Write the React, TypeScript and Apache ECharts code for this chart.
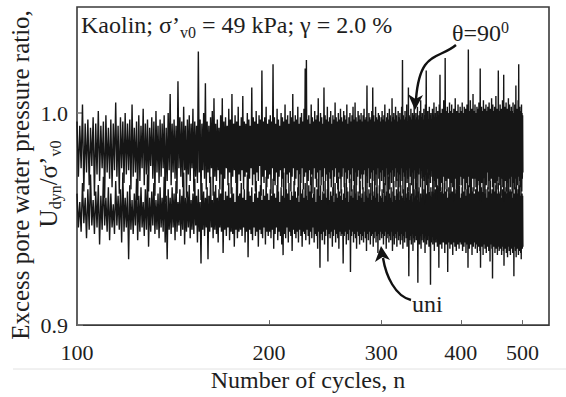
import React, { useEffect, useRef } from 'react';
import * as echarts from 'echarts';

// Cycle numbers start at 100; one high and one low reading per cycle.
const FIRST_CYCLE = 100;
const X_TICKS = [100, 200, 300, 400, 500];
const X_MIN = 100;
const X_MAX = 550;
const Y_TICKS = [0.9, 1.0];
const Y_MIN = 0.9;
const Y_MAX = 1.05;
// Values below are in thousandths above 0.9 (e.g. 96 -> 0.996)
const BASE = 0.9;

const THETA_HIGH = [
  96, 94, 104, 95, 97, 93, 98, 95, 101, 94, 96, 99, 93, 97, 95, 105, 94, 98, 96, 100,
  95, 97, 104, 93, 96, 99, 94, 102, 95, 97, 93, 98, 96, 101, 94, 97, 95, 99, 93, 100,
  109, 95, 97, 94, 115, 98, 96, 103, 94, 97, 99, 95, 102, 96, 94, 129, 97, 95, 100, 114,
  96, 94, 98, 101, 107, 95, 97, 93, 99, 107, 96, 98, 94, 102, 97, 109, 95, 99, 96, 103,
  94, 98, 108, 96, 95, 100, 97, 94, 112, 98, 96, 101, 95, 99, 97, 120, 96, 98, 103, 95,
  97, 99, 96, 123, 98, 95, 102, 97, 94, 100, 98, 96, 104, 97, 99, 95, 101, 98, 109, 96,
  99, 97, 103, 95, 98, 100, 96, 102, 121, 125, 97, 99, 95, 104, 98, 96, 101, 97, 99, 107,
  96, 100, 98, 95, 112, 99, 97, 103, 96, 98, 101, 95, 99, 97, 105, 98, 96, 100, 97, 102,
  98, 96, 101, 99, 97, 104, 95, 98, 100, 96, 99, 103, 97, 105, 98, 96, 101, 99, 97, 100,
  96, 99, 102, 97, 98, 113, 96, 100, 98, 97, 101, 112, 99, 96, 103, 98, 97, 100, 99, 96,
  98, 101, 97, 99, 104, 96, 98, 100, 97, 102, 99, 96, 107, 98, 100, 97, 103, 99, 96, 101,
  98, 100, 97, 103, 125, 99, 97, 101, 98, 104, 96, 112, 99, 98, 102, 97, 100, 99, 105, 97,
  100, 98, 103, 97, 99, 101, 106, 98, 100, 97, 102, 99, 104, 120, 98, 101, 97, 103, 99, 100,
  97, 102, 99, 105, 98, 100, 103, 97, 101, 99, 104, 118, 98, 100, 102, 97, 106, 99, 126, 101,
  98, 103, 100, 97, 105, 99, 101, 104, 98, 100, 102, 97, 107, 99, 101, 98, 104, 100, 97, 103,
  99, 101, 105, 98, 100, 103, 97, 102, 99, 104, 100, 130, 98, 101, 106, 99, 102, 100, 109, 98,
  101, 104, 99, 100, 103, 98, 102, 105, 100, 121, 99, 103, 101, 98, 106, 100, 102, 99, 104, 101,
  98, 103, 100, 105, 99, 102, 100, 107, 98, 104, 101, 99, 103, 100, 108, 99, 102, 100, 120, 101,
  99, 104, 100, 102, 98, 106, 101, 118, 99, 103, 100, 105, 98, 102, 100, 107, 99, 104, 101, 100,
  103, 99, 101, 105, 100, 98, 104, 101, 113, 100, 102, 99, 106, 123, 100, 103, 99, 101, 104, 100,
  99,
];

const THETA_LOW = [
  70, 74, 63, 72, 66, 75, 61, 71, 68, 74, 60, 72, 69, 65, 73, 70, 62, 74, 67, 71,
  73, 64, 70, 72, 59, 68, 74, 66, 71, 63, 75, 69, 61, 72, 67, 70, 74, 58, 68, 73,
  66, 72, 69, 62, 74, 70, 65, 73, 60, 71, 68, 74, 63, 70, 67, 72, 59, 73, 69, 64,
  72, 67, 74, 61, 70, 68, 73, 64, 71, 58, 69, 74, 66, 72, 62, 70, 73, 67, 60, 71,
  68, 73, 64, 70, 72, 59, 69, 74, 66, 71, 63, 72, 68, 75, 61, 70, 67, 73, 65, 69,
  71, 62, 74, 68, 66, 72, 60, 70, 73, 65, 69, 74, 58, 71, 67, 72, 63, 70, 74, 66,
  69, 73, 61, 71, 67, 74, 64, 70, 72, 59, 68, 73, 66, 71, 62, 74, 69, 65, 72, 60,
  73, 66, 70, 63, 74, 68, 71, 57, 72, 69, 65, 73, 61, 70, 74, 67, 64, 72, 69, 62,
  70, 74, 65, 72, 60, 69, 73, 67, 71, 63, 74, 68, 59, 72, 66, 70, 73, 62, 69, 71,
  64, 71, 73, 58, 70, 67, 74, 65, 69, 72, 61, 73, 68, 66, 71, 60, 74, 69, 63, 72,
  68, 73, 62, 70, 66, 74, 59, 71, 69, 64, 72, 67, 73, 61, 70, 74, 65, 68, 72, 60,
  71, 65, 74, 68, 62, 72, 70, 58, 73, 67, 69, 63, 74, 70, 66, 72, 61, 69, 73, 64,
  67, 72, 60, 71, 74, 65, 69, 73, 62, 70, 68, 57, 72, 66, 74, 69, 63, 71, 67, 73,
  70, 61, 73, 68, 65, 72, 59, 74, 69, 66, 71, 63, 73, 67, 60, 72, 70, 64, 74, 68,
  63, 71, 69, 74, 60, 70, 67, 72, 65, 73, 58, 69, 71, 64, 74, 68, 62, 72, 66, 70,
  72, 66, 60, 73, 69, 71, 64, 74, 67, 59, 70, 72, 65, 68, 73, 61, 71, 69, 74, 63,
  69, 73, 65, 70, 62, 74, 68, 66, 72, 58, 71, 67, 73, 63, 69, 74, 60, 70, 66, 72,
  74, 64, 71, 68, 60, 72, 69, 73, 65, 70, 62, 74, 67, 71, 59, 72, 68, 64, 73, 70,
  66, 72, 61, 74, 69, 65, 71, 58, 73, 68, 70, 63, 72, 67, 74, 60, 69, 71, 65, 73,
  70, 62, 73, 67, 71, 64, 74, 69, 59, 72, 66, 70, 73, 61, 68, 74, 65, 71, 63, 69,
  72,
];

const UNI_HIGH = [
  62, 58, 67, 60, 64, 71, 59, 63, 66, 61, 70, 60, 65, 62, 57, 68, 61, 64, 72, 60,
  63, 66, 59, 62, 69, 61, 65, 58, 64, 71, 60, 63, 67, 59, 62, 65, 60, 70, 61, 64,
  60, 65, 62, 68, 58, 64, 61, 72, 60, 63, 66, 59, 62, 69, 61, 64, 58, 67, 63, 60,
  65, 61, 70, 59, 63, 66, 60, 64, 62, 73, 59, 63, 61, 67, 60, 65, 62, 58, 69, 61,
  62, 67, 60, 64, 59, 71, 63, 61, 65, 58, 62, 68, 60, 63, 66, 59, 64, 61, 70, 62,
  59, 64, 61, 69, 62, 60, 66, 63, 58, 65, 61, 72, 60, 64, 62, 67, 59, 63, 61, 68,
  63, 60, 65, 58, 71, 62, 64, 60, 67, 61, 59, 66, 63, 70, 60, 62, 65, 58, 64, 69,
  61, 66, 59, 63, 62, 68, 60, 64, 72, 59, 63, 61, 65, 58, 67, 62, 60, 70, 63, 61,
  64, 59, 62, 67, 60, 65, 63, 58, 69, 61, 64, 60, 66, 62, 73, 59, 63, 61, 68, 60,
  62, 65, 58, 63, 61, 70, 60, 64, 62, 67, 59, 63, 61, 71, 60, 65, 62, 58, 66, 61,
  60, 64, 62, 58, 67, 61, 63, 59, 70, 62, 60, 65, 58, 63, 68, 61, 59, 64, 62, 69,
  63, 59, 66, 61, 60, 64, 58, 71, 62, 60, 65, 63, 59, 67, 61, 62, 58, 70, 60, 64,
  61, 67, 59, 63, 65, 58, 62, 60, 69, 61, 64, 59, 66, 62, 60, 72, 58, 63, 61, 65,
  59, 63, 61, 68, 60, 64, 58, 62, 66, 59, 71, 61, 63, 60, 65, 58, 62, 67, 60, 63,
  64, 60, 58, 65, 62, 61, 69, 59, 63, 60, 67, 62, 58, 64, 61, 70, 59, 63, 66, 60,
  58, 62, 65, 60, 63, 59, 72, 61, 60, 64, 58, 66, 62, 59, 68, 61, 63, 60, 65, 59,
  62, 59, 64, 61, 67, 58, 63, 60, 70, 62, 59, 65, 61, 63, 58, 69, 60, 62, 64, 59,
  60, 65, 58, 63, 61, 68, 59, 62, 64, 60, 72, 58, 63, 61, 66, 59, 62, 60, 67, 63,
  59, 62, 66, 60, 58, 64, 61, 69, 60, 63, 59, 65, 62, 58, 71, 60, 63, 61, 64, 59,
  63, 60, 58, 67, 61, 62, 59, 65, 60, 73, 58, 62, 64, 60, 66, 59, 61, 68, 60, 62,
  61,
];

const UNI_LOW = [
  46, 44, 48, 41, 45, 47, 43, 46, 38, 45, 47, 44, 40, 46, 43, 47, 45, 39, 44, 46,
  31, 45, 43, 47, 40, 44, 46, 42, 45, 37, 44, 47, 43, 45, 41, 46, 44, 39, 31, 45,
  43, 46, 40, 44, 47, 42, 45, 38, 44, 46, 41, 45, 43, 47, 39, 44, 29, 45, 42, 46,
  31, 44, 46, 41, 45, 43, 39, 46, 44, 34, 45, 42, 46, 40, 44, 43, 37, 45, 41, 44,
  45, 42, 46, 39, 44, 32, 45, 43, 40, 46, 42, 44, 37, 45, 43, 41, 46, 38, 44, 42,
  44, 41, 45, 36, 43, 46, 40, 44, 42, 38, 33, 43, 41, 46, 39, 44, 42, 35, 45, 43,
  41, 44, 39, 45, 42, 37, 44, 43, 40, 45, 42, 38, 44, 41, 46, 39, 43, 42, 36, 44,
  27, 43, 40, 44, 38, 42, 45, 30, 43, 41, 44, 37, 42, 45, 39, 43, 41, 36, 44, 42,
  43, 29, 42, 44, 38, 43, 40, 45, 25, 42, 44, 39, 43, 41, 36, 44, 42, 38, 43, 40,
  42, 39, 44, 41, 35, 43, 40, 44, 38, 42, 43, 37, 41, 44, 39, 42, 34, 43, 40, 44,
  41, 43, 38, 42, 44, 36, 41, 43, 39, 42, 40, 44, 35, 42, 38, 43, 41, 37, 44, 40,
  42, 38, 43, 40, 36, 42, 39, 44, 41, 37, 43, 23, 40, 42, 38, 43, 35, 41, 39, 42,
  40, 43, 20, 41, 38, 42, 36, 40, 43, 39, 41, 34, 42, 38, 40, 43, 37, 41, 19, 39,
  42, 38, 40, 35, 43, 39, 41, 37, 42, 27, 40, 38, 43, 36, 41, 39, 42, 34, 40, 38,
  41, 25, 39, 42, 36, 40, 38, 43, 33, 41, 39, 37, 42, 35, 40, 38, 41, 36, 39, 42,
  38, 41, 35, 40, 37, 42, 39, 34, 41, 38, 27, 40, 36, 42, 38, 39, 33, 41, 37, 40,
  39, 36, 41, 38, 34, 40, 37, 42, 35, 27, 39, 37, 41, 33, 40, 38, 36, 41, 34, 39,
  37, 40, 35, 39, 30, 38, 41, 36, 22, 39, 37, 40, 34, 38, 36, 41, 33, 39, 37, 35,
  40, 36, 38, 33, 41, 37, 35, 28, 39, 36, 40, 34, 38, 32, 39, 37, 35, 40, 33, 38,
  36, 39, 34, 38, 23, 37, 40, 35, 32, 38, 36, 39, 33, 37, 35, 40, 34, 31, 38, 36,
  37,
];

const SERIES_NAMES = ['θ=90⁰', 'uni'];

function buildSeries(high: number[], low: number[]): [number, number][] {
  const pts: [number, number][] = [];
  for (let i = 0; i < high.length; i++) {
    const n = FIRST_CYCLE + i;
    pts.push([n, +(BASE + high[i] / 1000).toFixed(4)]);
    pts.push([n + 0.5, +(BASE + low[i] / 1000).toFixed(4)]);
  }
  return pts;
}

const FONT = 'serif';
const TXT = '#1e1e1e';
const f = (size: number) => `${size}px "Liberation Serif"`;

export default function App() {
  const ref = useRef<HTMLDivElement>(null);

  useEffect(() => {
    if (!ref.current) return;
    const chart = echarts.init(ref.current, null, { renderer: 'svg' });
    const lineColor = '#161616';
    const option: any = {
      animation: false,
      backgroundColor: '#ffffff',
      grid: {
        left: 77,
        right: 17,
        top: 7,
        bottom: 70,
        show: true,
        borderColor: '#3a3a3a',
        borderWidth: 1.6,
        backgroundColor: 'transparent',
      },
      xAxis: {
        type: 'log',
        logBase: 10,
        min: X_MIN,
        max: X_MAX,
        name: 'Number of cycles, n',
        nameLocation: 'middle',
        nameGap: 39,
        nameTextStyle: { fontFamily: FONT, fontSize: 24, color: TXT, padding: [0, 10, 0, 0] },
        axisLine: { show: false },
        splitLine: { show: false },
        minorTick: { show: false },
        axisTick: {
          show: true,
          inside: true,
          length: 5,
          customValues: X_TICKS,
          lineStyle: { color: '#666', width: 1 },
        },
        axisLabel: {
          customValues: X_TICKS,
          fontFamily: FONT,
          fontSize: 22,
          color: TXT,
          margin: 16,
          formatter: (v: number) => String(Math.round(v)),
        },
      },
      yAxis: {
        type: 'value',
        min: Y_MIN,
        max: Y_MAX,
        axisLine: { show: false },
        splitLine: { show: false },
        axisTick: {
          show: true,
          inside: true,
          length: 6,
          customValues: Y_TICKS,
          lineStyle: { color: '#777', width: 1.5 },
        },
        axisLabel: {
          customValues: Y_TICKS,
          fontFamily: FONT,
          fontSize: 22,
          color: TXT,
          margin: 9,
          formatter: (v: number) => v.toFixed(1),
        },
      },
      series: [
        {
          name: SERIES_NAMES[1],
          type: 'line',
          data: buildSeries(UNI_HIGH, UNI_LOW),
          showSymbol: false,
          symbol: 'none',
          lineStyle: { color: lineColor, width: 1.4 },
          silent: true,
          clip: true,
        },
        {
          name: SERIES_NAMES[0],
          type: 'line',
          data: buildSeries(THETA_HIGH, THETA_LOW),
          showSymbol: false,
          symbol: 'none',
          lineStyle: { color: lineColor, width: 1.4 },
          silent: true,
          clip: true,
        },
      ],
      graphic: [
        {
          type: 'line',
          silent: true,
          shape: { x1: 13, y1: 369, x2: 566, y2: 369 },
          style: { stroke: '#e2e2e2', lineWidth: 1 },
        },
        {
          type: 'text',
          x: 20,
          y: 175,
          rotation: Math.PI / 2,
          style: {
            text: 'Excess pore water pressure ratio,',
            font: f(25),
            fill: TXT,
            textAlign: 'center',
            textVerticalAlign: 'middle',
          },
        },
        {
          type: 'text',
          x: 48,
          y: 184,
          rotation: Math.PI / 2,
          style: {
            text: '{a|U}{b|dyn}{a|/σ’}{b|v0}',
            textAlign: 'center',
            textVerticalAlign: 'middle',
            font: f(25),
            rich: {
              a: { font: f(25), fill: TXT },
              b: { font: f(16), fill: TXT, padding: [14, 0, 0, 0] },
            },
          },
        },
        {
          type: 'text',
          x: 81,
          y: 25,
          style: {
            text: '{a|Kaolin; σ’}{b|v0}{a| = 49 kPa; γ = 2.0 %}',
            textAlign: 'left',
            textVerticalAlign: 'middle',
            font: f(24),
            rich: {
              a: { font: f(24), fill: TXT },
              b: { font: f(16), fill: TXT, padding: [14, 0, 0, 0] },
            },
          },
        },
        {
          type: 'text',
          x: 452,
          y: 33,
          style: {
            text: '{a|θ=90}{s|0}',
            textAlign: 'left',
            textVerticalAlign: 'middle',
            font: f(24),
            rich: {
              a: { font: f(24), fill: TXT },
              s: { font: f(16), fill: TXT, padding: [0, 0, 12, 0] },
            },
          },
        },
        {
          type: 'text',
          x: 412,
          y: 304,
          style: {
            text: 'uni',
            font: f(24),
            fill: TXT,
            textAlign: 'left',
            textVerticalAlign: 'middle',
          },
        },
        {
          type: 'bezierCurve',
          silent: true,
          shape: { x1: 456, y1: 45, cpx1: 438, cpy1: 60, cpx2: 420, cpy2: 50, x2: 416, y2: 99 },
          style: { stroke: '#111', lineWidth: 2.4, fill: null },
        },
        {
          type: 'polygon',
          silent: true,
          shape: { points: [[415, 110], [408, 94], [415.5, 99], [423, 95]] },
          style: { fill: '#111' },
        },
        {
          type: 'bezierCurve',
          silent: true,
          shape: { x1: 411, y1: 300, cpx1: 395, cpy1: 296, cpx2: 386, cpy2: 276, x2: 383, y2: 258 },
          style: { stroke: '#111', lineWidth: 2.4, fill: null },
        },
        {
          type: 'polygon',
          silent: true,
          shape: { points: [[381, 246], [375, 262], [382.5, 257], [390, 260]] },
          style: { fill: '#111' },
        },
      ],
    };
    chart.setOption(option);
    return () => chart.dispose();
  }, []);

  return (
    <div
      ref={ref}
      style={{ position: 'absolute', left: 0, top: 0, width: 566, height: 397, background: '#fff' }}
    />
  );
}
